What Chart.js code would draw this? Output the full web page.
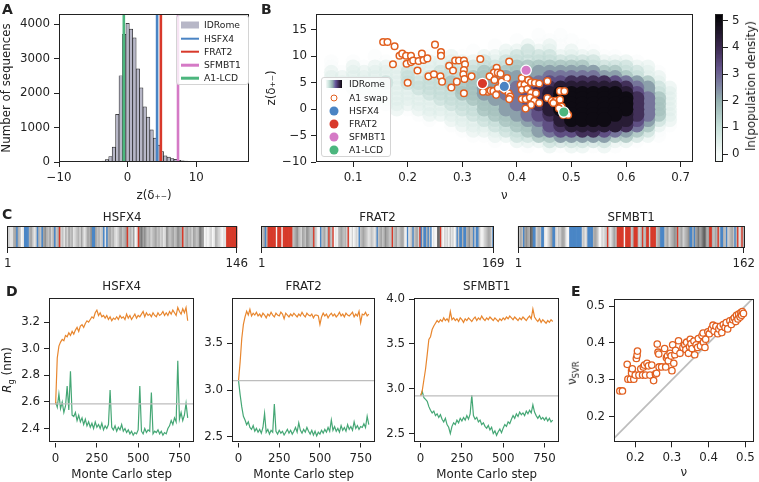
<!DOCTYPE html>
<html>
<head>
<meta charset="utf-8">
<title>IDRome charge patterning</title>
<script src="https://cdn.jsdelivr.net/npm/chart.js@4.4.1/dist/chart.umd.min.js"></script>
<style>
  html, body { margin: 0; padding: 0; background: #fff; }
  #fig { position: relative; width: 759px; height: 482px; overflow: hidden; font-family: 'DejaVu Sans', sans-serif; color: #222; }
  #fig canvas { position: absolute; }
  .tag { position: absolute; font-weight: bold; font-size: 14px; line-height: 14px; }
  .legend { position: absolute; border: 1px solid #d4d4d4; border-radius: 3px; background: rgba(255,255,255,0.8); font-size: 9.2px; box-sizing: border-box; }
  .legend .row { position: absolute; white-space: nowrap; line-height: 10px; transform: translateY(-50%); }
  .legend .sw { position: absolute; transform: translate(-50%, -50%); box-sizing: border-box; }
  .vlab { position: absolute; font-size: 11.8px; white-space: nowrap; transform: translate(-50%, -50%) rotate(-90deg); }
  .vlab sub { font-size: 8.5px; }
</style>
</head>
<body>
<div id="fig">
  <canvas id="histA" width="255" height="203" style="left:0;top:0"></canvas>
  <canvas id="mapB" width="440" height="203" style="left:260px;top:0"></canvas>
  <canvas id="barB" width="44" height="203" style="left:715px;top:0"></canvas>
  <canvas id="seq0" width="252" height="64" style="left:0;top:206px"></canvas>
  <canvas id="seq1" width="260" height="64" style="left:250px;top:206px"></canvas>
  <canvas id="seq2" width="249" height="64" style="left:510px;top:206px"></canvas>
  <canvas id="rg0" width="197" height="203" style="left:0;top:279px"></canvas>
  <canvas id="rg1" width="180" height="203" style="left:198px;top:279px"></canvas>
  <canvas id="rg2" width="182" height="203" style="left:380px;top:279px"></canvas>
  <canvas id="svrE" width="185" height="203" style="left:574px;top:279px"></canvas>

  <div class="tag" style="left:2px;top:2px">A</div>
  <div class="tag" style="left:261px;top:2px">B</div>
  <div class="tag" style="left:2px;top:207px">C</div>
  <div class="tag" style="left:6px;top:284px">D</div>
  <div class="tag" style="left:571px;top:284px">E</div>

  <div class="legend" style="left:176px;top:15px;width:73px;height:70px">
    <div class="sw" style="left:13px;top:9px;width:18px;height:7px;background:#b7b7c7"></div>
    <div class="row" style="left:27px;top:9px">IDRome</div>
    <div class="sw" style="left:13px;top:22.5px;width:18px;height:2.6px;background:#4a84c4"></div>
    <div class="row" style="left:27px;top:22.5px">HSFX4</div>
    <div class="sw" style="left:13px;top:35.7px;width:18px;height:2.6px;background:#d8392b"></div>
    <div class="row" style="left:27px;top:35.7px">FRAT2</div>
    <div class="sw" style="left:13px;top:49px;width:18px;height:2.6px;background:#d57ac6"></div>
    <div class="row" style="left:27px;top:49px">SFMBT1</div>
    <div class="sw" style="left:13px;top:62.3px;width:18px;height:2.6px;background:#4cb67e"></div>
    <div class="row" style="left:27px;top:62.3px">A1-LCD</div>
  </div>

  <div class="legend" style="left:321px;top:77px;width:70px;height:80px">
    <div class="sw" style="left:12px;top:6px;width:16px;height:8px;background:linear-gradient(to right,#f4faf8,#c6e0d9,#94b0b0,#64549a,#3a284e,#0c0a10)"></div>
    <div class="row" style="left:27px;top:6px">IDRome</div>
    <div class="sw" style="left:12px;top:19.5px;width:7px;height:7px;border:1.5px solid #e15f1f;border-radius:50%;background:#fff"></div>
    <div class="row" style="left:27px;top:19.5px">A1 swap</div>
    <div class="sw" style="left:12px;top:32.5px;width:9px;height:9px;border-radius:50%;background:#4a84c4"></div>
    <div class="row" style="left:27px;top:32.5px">HSFX4</div>
    <div class="sw" style="left:12px;top:46px;width:9px;height:9px;border-radius:50%;background:#d8392b"></div>
    <div class="row" style="left:27px;top:46px">FRAT2</div>
    <div class="sw" style="left:12px;top:59px;width:9px;height:9px;border-radius:50%;background:#d57ac6"></div>
    <div class="row" style="left:27px;top:59px">SFMBT1</div>
    <div class="sw" style="left:12px;top:72px;width:9px;height:9px;border-radius:50%;background:#4cb67e"></div>
    <div class="row" style="left:27px;top:72px">A1-LCD</div>
  </div>

  <div class="vlab" style="left:751px;top:86px">ln(population density)</div>
  <div class="vlab" style="left:7.5px;top:370px"><i>R</i><sub>g</sub> (nm)</div>
  <div class="vlab" style="left:573px;top:373px">ν<sub>SVR</sub></div>
</div>

<script>
// ---------- panel A: histogram of z(delta+-) over IDRome ----------
const zBins = [-4.5, -4, -3.5, -3, -2.5, -2, -1.5, -1, -0.5, 0, 0.5, 1, 1.5, 2, 2.5, 3, 3.5, 4, 4.5, 5, 5.5, 6, 6.5, 7, 7.5, 8, 8.5, 9, 9.5];
const zCounts = [8, 15, 30, 70, 160, 430, 1380, 2500, 3700, 4020, 3850, 3600, 2700, 2150, 1600, 1300, 930, 690, 490, 300, 180, 140, 100, 75, 50, 35, 25, 15, 10];
const countTicks = [0, 1000, 2000, 3000, 4000];

// reference sequences
const refNames = ['HSFX4', 'FRAT2', 'SFMBT1', 'A1-LCD'];
const refZ = [4.3, 4.85, 7.35, -0.55];
const refNu = [0.377, 0.337, 0.417, 0.486];

// ---------- panel B: density map (ln density, digit * 0.55), A1 swap variants ----------
const gridNu = [0.06, 0.08, 0.10, 0.12, 0.14, 0.16, 0.18, 0.20, 0.22, 0.24, 0.26, 0.28, 0.30, 0.32, 0.34, 0.36,
                0.38, 0.40, 0.42, 0.44, 0.46, 0.48, 0.50, 0.52, 0.54, 0.56, 0.58, 0.60, 0.62, 0.64, 0.66, 0.68];
const gridZ = [14, 13, 12, 11, 10, 9, 8, 7, 6, 5, 4, 3, 2, 1, 0, -1, -2, -3, -4, -5, -6, -7];
const densityRows = [
  '..........' + '.........0.0..........',
  '..........' + '.......0..0.0.........',
  '..........' + '.....0..1010.0........',
  '..........' + '...0..1121101.0.......',
  '....0....0' + '010.1112122111100.....',
  '0.0..0.101' + '1111212222222221110...',
  '0.10111111' + '12122223333333222211..',
  '1011111211' + '222233333444444332210.',
  '1111111212' + '222333444455555443211.',
  '0111121222' + '232334445566777765431.',
  '0.11111122' + '2233444556788888875421',
  '..01111112' + '2233445567899999986421',
  '...0111111' + '2223344567899999997531',
  '....011111' + '1222334557899999997531',
  '.....01011' + '1122334456899999997531',
  '........01' + '1112233456789999987531',
  '.........0' + '.111223345689999886421',
  '..........' + '.011122334678888875310',
  '..........' + '..0111223456677654320.',
  '..........' + '...001122334444433210.',
  '..........' + '.....0.111222222110...',
  '..........' + '........0.1011010.....'
];
const swapNu = [0.155, 0.163, 0.176, 0.250, 0.185, 0.190, 0.197, 0.206, 0.226, 0.261, 0.261, 0.173, 0.198, 0.206, 0.210,
  0.220, 0.229, 0.236, 0.218, 0.200, 0.238, 0.248, 0.260, 0.263, 0.276, 0.287, 0.294, 0.303, 0.305, 0.283, 0.303, 0.290,
  0.280, 0.302, 0.304, 0.303, 0.317, 0.333, 0.363, 0.358, 0.365, 0.370, 0.347, 0.352, 0.357, 0.372, 0.350, 0.359, 0.365,
  0.377, 0.338, 0.362, 0.386, 0.382, 0.385, 0.388, 0.386, 0.409, 0.407, 0.414, 0.421, 0.426, 0.433, 0.441, 0.409, 0.419,
  0.426, 0.435, 0.409, 0.416, 0.424, 0.432, 0.441, 0.426, 0.416, 0.456, 0.456, 0.464, 0.471, 0.479, 0.467, 0.479, 0.487,
  0.482, 0.491, 0.494, 0.485, 0.477];
const swapZ = [12.7, 12.7, 11.9, 12.2, 10.1, 10.5, 10.1, 10.1, 10.5, 10.8, 10.1, 8.5, 8.6, 8.9, 9.2,
  9.1, 9.3, 9.6, 7.3, 5.0, 6.2, 6.6, 6.2, 5.2, 8.2, 9.2, 9.2, 9.2, 8.5, 7.3, 7.4, 5.2,
  4.1, 6.6, 5.7, 3.0, 6.2, 9.5, 7.8, 6.9, 6.9, 6.7, 3.3, 3.5, 3.4, 5.2, 6.2, 5.5, 4.0,
  3.6, 3.3, 2.7, 9.0, 5.9, 3.0, 2.4, 1.9, 5.9, 4.6, 4.6, 5.5, 5.1, 5.0, 4.85, 3.65, 3.8,
  3.1, 3.0, 1.9, 1.9, 2.2, 1.6, 1.15, 0.8, 0.1, 5.3, 2.1, 1.6, 1.6, 1.8, 1.15, 3.4, 3.4,
  0.5, -0.76, -1.1, -1.1, 0.15];

// ---------- panel C: residue colour codes (0-9 grey level, r acidic, b basic) ----------
const seqNames = ['HSFX4', 'FRAT2', 'SFMBT1'];
const seqLengths = [146, 169, 162];
const hsfx4Code = ['32', '11', '45', 'b', '43', '01', 'bbb', '453', '12', 'b', '43', 'b', '564', '352', '4b', '34', 'r',
  '23142', '534', '123', '425', '213', '546', 'bb5', '342', '3b', '1b', '4534', '212', '45345', 'r', '3425', '01', 'r',
  '67564', '3423', '453423', '12', '643453465', '4r', '3453425434', '765', '0101201', '432', '101', '1', 'rrrrrrr'].join('');
const frat2Code = ['435', 'b4', 'rrrrrr', '0', 'rrr', '0', 'rrrrrrr', '345643254365434', 'r', '320', '0', 'b', '34524', 'r',
  '43', 'r', '010', '345434', '2', 'r', '1020121', 'b', '34543', '2123212', 'b3', '45346543', '3', 'r', '34523454', '10b1',
  '23', 'b', '3452', 'r', 'b3bb4b3b', '0100', '87', 'r', '10212031201', 'b3bb4bb', '456', '34', 'b2bb', '3', '1012', '3',
  '454', '2b'].join('');
const sfmbt1Code = ['4353', 'b', '5654', '87', 'bb', '2343', 'bb', '1012', '45', 'bb', '2132', '454', '2', '00', 'bbbbbbbbb',
  '2312', 'bbbb', '4543', '00', '2123', 'r', '212', '453', 'rrrrr', '0', 'rrrr', '34', 'rrr', '324', 'r', '34', 'rr', '2',
  'rrr', 'r3', '45', 'bbb', '345234565', 'r', '34523456', 'b', 'b4b5', '6756', '787', '45', 'rr4', '35', '4', 'r', '3',
  'bb4', '3', 'b', '2', '345', '3', 'b', '4', 'r', '12', 'r', '4'].join('');

// ---------- panel D: Rg along Monte Carlo swap runs ----------
const mcStep = [0, 10, 20, 30, 40, 50, 60, 70, 80, 90, 100, 110, 120, 130, 140, 150, 160, 170, 180, 190, 200, 210, 220, 230,
  240, 250, 260, 270, 280, 290, 300, 310, 320, 330, 340, 350, 360, 370, 380, 390, 400, 410, 420, 430, 440, 450, 460, 470,
  480, 490, 500, 510, 520, 530, 540, 550, 560, 570, 580, 590, 600, 610, 620, 630, 640, 650, 660, 670, 680, 690, 700, 710,
  720, 730, 740, 750, 760, 770, 780, 790, 800];
const rgStart = [2.585, 3.10, 2.92];
const hsfx4Swap = [2.58, 2.93, 3.02, 3.05, 3.07, 3.06, 3.10, 3.09, 3.12, 3.10,
  3.13, 3.11, 3.14, 3.16, 3.13, 3.17, 3.18, 3.16, 3.19, 3.21,
  3.20, 3.22, 3.24, 3.23, 3.27, 3.29, 3.25, 3.27, 3.24, 3.25,
  3.23, 3.25, 3.22, 3.24, 3.21, 3.23, 3.22, 3.24, 3.22, 3.25,
  3.23, 3.24, 3.22, 3.26, 3.23, 3.25, 3.22, 3.24, 3.26, 3.23,
  3.25, 3.24, 3.26, 3.28, 3.24, 3.27, 3.25, 3.26, 3.24, 3.27,
  3.25, 3.24, 3.27, 3.25, 3.26, 3.28, 3.25, 3.27, 3.25, 3.28,
  3.26, 3.29, 3.27, 3.25, 3.31, 3.28, 3.26, 3.30, 3.27, 3.31, 3.21];
const hsfx4Ref = [2.60, 2.56, 2.66, 2.55, 2.60, 2.52, 2.57, 2.72, 2.54, 2.83,
  2.50, 2.49, 2.52, 2.46, 2.50, 2.45, 2.48, 2.43, 2.47, 2.42,
  2.45, 2.41, 2.44, 2.40, 2.45, 2.41, 2.43, 2.40, 2.44, 2.39,
  2.42, 2.40, 2.43, 2.69, 2.41, 2.39, 2.42, 2.38, 2.41, 2.39,
  2.43, 2.38, 2.40, 2.37, 2.39, 2.36, 2.38, 2.35, 2.37, 2.36,
  2.39, 2.72, 2.38, 2.36, 2.40, 2.37, 2.39, 2.38, 2.67, 2.36,
  2.38, 2.37, 2.39, 2.36, 2.38, 2.35, 2.37, 2.36, 2.40, 2.42,
  2.46, 2.43, 2.48, 2.45, 2.91, 2.47, 2.52, 2.46, 2.50, 2.59, 2.48];
const frat2Swap = [3.10, 3.30, 3.55, 3.70, 3.78, 3.84, 3.80, 3.86, 3.79, 3.82,
  3.80, 3.83, 3.79, 3.81, 3.78, 3.82, 3.80, 3.77, 3.81, 3.79,
  3.83, 3.80, 3.78, 3.82, 3.80, 3.79, 3.83, 3.81, 3.76, 3.82,
  3.80, 3.78, 3.81, 3.79, 3.82, 3.80, 3.78, 3.81, 3.79, 3.83,
  3.80, 3.78, 3.82, 3.80, 3.79, 3.81, 3.77, 3.80, 3.80, 3.79,
  3.70, 3.78, 3.82, 3.79, 3.81, 3.77, 3.80, 3.82, 3.79, 3.81,
  3.78, 3.80, 3.83, 3.79, 3.81, 3.78, 3.82, 3.80, 3.79, 3.81,
  3.83, 3.78, 3.81, 3.79, 3.84, 3.72, 3.81, 3.80, 3.83, 3.79, 3.81];
const frat2Ref = [3.10, 2.95, 2.82, 2.72, 2.68, 2.63, 2.66, 2.60, 2.58, 2.62,
  2.56, 2.59, 2.55, 2.58, 2.54, 2.60, 2.75, 2.55, 2.58, 2.53,
  2.57, 2.55, 2.85, 2.56, 2.53, 2.57, 2.54, 2.56, 2.52, 2.55,
  2.58, 2.54, 2.57, 2.53, 2.56, 2.60, 2.55, 2.65, 2.57, 2.54,
  2.58, 2.55, 2.60, 2.56, 2.53, 2.57, 2.52, 2.56, 2.51, 2.55,
  2.53, 2.57, 2.54, 2.58, 2.55, 2.60, 2.56, 2.68, 2.57, 2.61,
  2.56, 2.59, 2.55, 2.62, 2.57, 2.60, 2.56, 2.63, 2.58, 2.61,
  2.57, 2.66, 2.59, 2.62, 2.58, 2.61, 2.60, 2.64, 2.60, 2.72, 2.63];
const sfmbt1Swap = [2.92, 2.98, 3.10, 3.22, 3.38, 3.55, 3.58, 3.66, 3.70, 3.73,
  3.76, 3.74, 3.77, 3.75, 3.79, 3.76, 3.78, 3.75, 3.86, 3.77,
  3.79, 3.76, 3.78, 3.75, 3.79, 3.77, 3.74, 3.78, 3.76, 3.79,
  3.77, 3.75, 3.78, 3.80, 3.76, 3.79, 3.77, 3.81, 3.78, 3.76,
  3.79, 3.77, 3.80, 3.78, 3.76, 3.79, 3.77, 3.75, 3.78, 3.76,
  3.79, 3.77, 3.80, 3.78, 3.81, 3.79, 3.77, 3.80, 3.78, 3.76,
  3.79, 3.77, 3.80, 3.78, 3.76, 3.79, 3.81, 3.78, 3.89, 3.80,
  3.77, 3.75, 3.78, 3.74, 3.77, 3.75, 3.73, 3.76, 3.74, 3.77, 3.75];
const sfmbt1Ref = [2.92, 2.97, 2.90, 2.88, 2.86, 2.80, 2.76, 2.73, 2.75, 2.70,
  2.72, 2.68, 2.71, 2.66, 2.63, 2.67, 2.60, 2.57, 2.50, 2.58,
  2.62, 2.60, 2.65, 2.62, 2.67, 2.64, 2.68, 2.65, 2.70, 2.66,
  2.72, 2.93, 2.70, 2.66, 2.68, 2.63, 2.65, 2.60, 2.62, 2.58,
  2.56, 2.59, 2.54, 2.57, 2.50, 2.53, 2.48, 2.52, 2.55, 2.51,
  2.56, 2.60, 2.58, 2.63, 2.61, 2.66, 2.70, 2.67, 2.72, 2.69,
  2.74, 2.71, 2.73, 2.70, 2.75, 2.72, 2.76, 2.73, 2.82, 2.74,
  2.70, 2.67, 2.70, 2.66, 2.68, 2.65, 2.68, 2.64, 2.67, 2.63, 2.65];

// ---------- panel E: nu vs SVR prediction ----------
const svrNu = [0.158, 0.165, 0.178, 0.180, 0.187, 0.190, 0.190, 0.192, 0.196, 0.200, 0.203, 0.205, 0.206, 0.210, 0.215,
  0.220, 0.222, 0.225, 0.228, 0.232, 0.236, 0.240, 0.245, 0.250, 0.255, 0.258, 0.260, 0.262, 0.264, 0.265, 0.272, 0.280,
  0.283, 0.285, 0.288, 0.290, 0.295, 0.298, 0.300, 0.302, 0.305, 0.308, 0.310, 0.318, 0.322, 0.330, 0.335, 0.338, 0.340,
  0.345, 0.348, 0.350, 0.352, 0.355, 0.360, 0.362, 0.366, 0.370, 0.372, 0.378, 0.382, 0.385, 0.386, 0.390, 0.392, 0.398,
  0.402, 0.408, 0.412, 0.415, 0.420, 0.425, 0.428, 0.432, 0.436, 0.440, 0.445, 0.448, 0.452, 0.458, 0.462, 0.466, 0.470,
  0.474, 0.476, 0.480, 0.482, 0.486, 0.488, 0.490, 0.492, 0.495];
const svrPred = [0.270, 0.270, 0.342, 0.302, 0.302, 0.325, 0.318, 0.330, 0.302, 0.313, 0.358, 0.367, 0.378, 0.313, 0.330,
  0.313, 0.335, 0.340, 0.313, 0.345, 0.338, 0.313, 0.340, 0.298, 0.316, 0.318, 0.397, 0.375, 0.370, 0.335, 0.335, 0.385,
  0.335, 0.360, 0.365, 0.352, 0.372, 0.365, 0.325, 0.395, 0.345, 0.368, 0.380, 0.406, 0.372, 0.388, 0.395, 0.382, 0.402,
  0.372, 0.390, 0.410, 0.398, 0.385, 0.405, 0.368, 0.395, 0.388, 0.412, 0.392, 0.420, 0.427, 0.402, 0.388, 0.410, 0.430,
  0.425, 0.438, 0.448, 0.432, 0.445, 0.425, 0.438, 0.445, 0.428, 0.450, 0.442, 0.455, 0.438, 0.460, 0.450, 0.463, 0.468,
  0.458, 0.475, 0.465, 0.478, 0.470, 0.482, 0.475, 0.485, 0.480];

// ---------- styling ----------
const INK = '#222';
const TICK_FONT = { family: "'DejaVu Sans', sans-serif", size: 11.8, weight: 'normal' };
const refColors = ['#4a84c4', '#d8392b', '#d57ac6', '#4cb67e'];
const SWAP = '#e15f1f';
const RUN_SWAP = '#e8862e';
const RUN_REF = '#45a775';
const residueColor = { r: '#d73a2a', b: '#4a86c6', '0': '#f6f6f6', '1': '#e4e4e4', '2': '#d3d3d3', '3': '#c3c3c3',
  '4': '#b3b3b3', '5': '#a4a4a4', '6': '#909090', '7': '#787878', '8': '#5f5f5f', '9': '#484848' };
const cmapStops = [[0, [244, 250, 248]], [1, [198, 224, 217]], [2, [148, 176, 176]], [2.6, [124, 128, 160]],
  [3.2, [100, 84, 138]], [4, [58, 40, 78]], [5, [12, 10, 16]]];

function cmap(v, alpha) {
  let lo = cmapStops[0], hi = cmapStops[cmapStops.length - 1];
  for (let i = 0; i < cmapStops.length - 1; i++) {
    if (v >= cmapStops[i][0] && v <= cmapStops[i + 1][0]) { lo = cmapStops[i]; hi = cmapStops[i + 1]; break; }
  }
  if (v < cmapStops[0][0]) hi = lo;
  const t = hi[0] === lo[0] ? 0 : (v - lo[0]) / (hi[0] - lo[0]);
  const c = lo[1].map((a, k) => Math.round(a + (hi[1][k] - a) * t));
  return `rgba(${c[0]},${c[1]},${c[2]},${alpha === undefined ? 1 : alpha})`;
}

const minus = v => (v < 0 ? '\u2212' : '') + Math.abs(v);
const fixed1 = v => v.toFixed(1);

Chart.defaults.font.family = TICK_FONT.family;
Chart.defaults.color = INK;
Chart.register({
  id: 'frame',
  afterDatasetsDraw(chart) {
    const a = chart.chartArea, c = chart.ctx;
    c.save();
    c.strokeStyle = INK;
    c.lineWidth = 1;
    c.strokeRect(Math.round(a.left) + 0.5, Math.round(a.top) + 0.5,
      Math.round(a.right - a.left) - 1, Math.round(a.bottom - a.top) - 1);
    c.restore();
  }
});

function axis(o) {
  const ax = {
    type: 'linear',
    position: o.position,
    offset: false,
    min: o.min,
    max: o.max,
    grid: { offset: false, drawOnChartArea: false, drawTicks: true, tickLength: 5, color: INK },
    border: { display: false },
    ticks: { stepSize: o.step, includeBounds: false, color: INK, font: TICK_FONT, padding: 4,
      maxRotation: 0, autoSkip: false, callback: o.fmt },
    title: o.title ? { display: true, text: o.title, color: INK, font: TICK_FONT, padding: o.titlePad || 0 }
                   : { display: false },
    afterFit: s => { if (s.isHorizontal()) s.height = o.size; else s.width = o.size; }
  };
  // explicit tick values (Chart.js evens out big steps when min/max are fixed)
  if (o.at) ax.afterBuildTicks = s => { s.ticks = o.at.map(value => ({ value })); };
  return ax;
}

function options(padding, scales, title) {
  return {
    responsive: false,
    animation: false,
    devicePixelRatio: 1,
    layout: { padding },
    plugins: {
      legend: { display: false },
      tooltip: { enabled: false },
      title: title ? { display: true, text: title, fullSize: false, color: INK, font: TICK_FONT,
                       padding: { top: 0, bottom: 4 } } : { display: false }
    },
    scales
  };
}

// ---------- A ----------
const histTop = 4290;
new Chart(document.getElementById('histA'), {
  type: 'bar',
  data: {
    datasets: [
      ...refNames.map((n, i) => ({
        type: 'line', label: n, data: [{ x: refZ[i], y: 0 }, { x: refZ[i], y: histTop }],
        borderColor: refColors[i], borderWidth: 2.6, pointRadius: 0, order: 0
      })),
      { type: 'bar', label: 'IDRome', data: zBins.map((x, i) => ({ x, y: zCounts[i] })),
        backgroundColor: '#b7b7c7', borderColor: '#1e1e1e', borderWidth: 0.7,
        barPercentage: 1, categoryPercentage: 1, order: 1 }
    ]
  },
  options: options({ left: 0, top: 14, right: 6, bottom: 0 }, {
    x: axis({ min: -10, max: 17.7, step: 10, fmt: minus, size: 41, title: 'z(δ₊₋)' }),
    y: axis({ min: 0, max: histTop, at: countTicks, fmt: v => String(v), size: 59, title: 'Number of sequences' })
  })
});

// ---------- B ----------
const densityPts = [];
densityRows.forEach((row, i) => {
  for (let j = 0; j < row.length; j++) {
    if (row[j] === '.') continue;
    densityPts.push({ x: gridNu[j], y: gridZ[i], v: Number(row[j]) * 0.55 });
  }
});
densityPts.sort((a, b) => a.v - b.v);
const densityAlpha = v => v < 0.3 ? 0.3 : v < 0.6 ? 0.42 : v < 1.2 ? 0.55 : v < 1.7 ? 0.75 : 1;

new Chart(document.getElementById('mapB'), {
  type: 'scatter',
  data: {
    datasets: [
      ...refNames.map((n, i) => ({
        label: n, data: [{ x: refNu[i], y: refZ[i] }], pointRadius: 5.2,
        pointBackgroundColor: refColors[i], pointBorderColor: '#fff', pointBorderWidth: 1.3, order: 1
      })),
      { label: 'A1 swap', data: swapNu.map((x, i) => ({ x, y: swapZ[i] })), pointRadius: 3.3,
        pointBackgroundColor: '#fff', pointBorderColor: SWAP, pointBorderWidth: 1.5, order: 2 },
      { label: 'IDRome', data: densityPts, pointRadius: 7.4, pointBorderWidth: 0,
        pointBackgroundColor: densityPts.map(p => cmap(p.v, densityAlpha(p.v))), order: 3 }
    ]
  },
  options: options({ left: 0, top: 14, right: 4, bottom: 0 }, {
    x: axis({ min: 0.032, max: 0.722, step: 0.1, fmt: fixed1, size: 41, title: 'ν' }),
    y: axis({ min: -10, max: 18, step: 5, fmt: minus, size: 56, title: 'z(δ₊₋)', titlePad: { top: 5, bottom: 0 } })
  })
});

// colour bar
const cbMin = -0.3, cbMax = 5.25, cbStep = 0.05;
const cbSegments = [];
for (let lo = cbMin; lo < cbMax - 1e-9; lo += cbStep) cbSegments.push([lo, Math.min(lo + cbStep, cbMax)]);
const cbAxis = axis({ min: cbMin, max: cbMax, step: 1, fmt: v => String(v), size: 36 });
cbAxis.position = 'right';
new Chart(document.getElementById('barB'), {
  type: 'bar',
  data: {
    labels: [''],
    datasets: cbSegments.map(([lo, hi]) => ({
      data: [[lo, hi]], backgroundColor: cmap(Math.max(0, (lo + hi) / 2)), borderWidth: 0,
      barPercentage: 1, categoryPercentage: 1, grouped: false
    }))
  },
  options: options({ left: 0, top: 14, right: 0, bottom: 41 }, { x: { display: false }, y: cbAxis })
});

// ---------- C ----------
const seqCodes = [hsfx4Code, frat2Code, sfmbt1Code];
const seqPad = [{ left: 5, right: 14.3, top: 0, bottom: 0 }, { left: 11, right: 16, top: 0, bottom: 0 },
                { left: 7.7, right: 9, top: 0, bottom: 0 }];
seqNames.forEach((name, k) => {
  const code = [...seqCodes[k]], n = seqLengths[k];
  const xAxis = axis({ min: 0.5, max: n + 0.5, at: [1, n], fmt: v => String(v), size: 22 });
  const opts = options(seqPad[k], { x: xAxis, y: { display: false, min: 0, max: 1 } }, name);
  opts.plugins.title.padding = { top: 5, bottom: 1 };
  new Chart(document.getElementById('seq' + k), {
    type: 'bar',
    data: {
      datasets: [{ label: name, data: code.map((c, i) => ({ x: i + 1, y: 1 })),
        backgroundColor: code.map(c => residueColor[c]), borderWidth: 0,
        barPercentage: 1, categoryPercentage: 1 }]
    },
    options: opts
  });
});

// ---------- D ----------
const rgSwap = [hsfx4Swap, frat2Swap, sfmbt1Swap];
const rgRef = [hsfx4Ref, frat2Ref, sfmbt1Ref];
const rgRange = [[2.295, 3.38], [2.44, 3.98], [2.40, 4.01]];
const rgStep = [0.2, 0.5, 0.5];
const mcMin = -40, mcMax = 840;
const rgAxisW = [49, 34, 34];
seqNames.forEach((name, k) => {
  new Chart(document.getElementById('rg' + k), {
    type: 'line',
    data: {
      datasets: [
        { label: 'start', data: [{ x: mcMin, y: rgStart[k] }, { x: mcMax, y: rgStart[k] }],
          borderColor: '#bdbdbd', borderWidth: 1.3, pointRadius: 0, order: 0 },
        { label: 'swap', data: mcStep.map((x, i) => ({ x, y: rgSwap[k][i] })),
          borderColor: RUN_SWAP, borderWidth: 1.2, pointRadius: 0, order: 1 },
        { label: 'A1-like', data: mcStep.map((x, i) => ({ x, y: rgRef[k][i] })),
          borderColor: RUN_REF, borderWidth: 1.2, pointRadius: 0, order: 2 }
      ]
    },
    options: options({ left: 0, top: 1, right: 2.7, bottom: 0 }, {
      x: axis({ min: mcMin, max: mcMax, step: 250, fmt: v => String(v), size: 39.5, title: 'Monte Carlo step' }),
      y: axis({ min: rgRange[k][0], max: rgRange[k][1], step: rgStep[k], fmt: fixed1, size: rgAxisW[k] })
    }, name)
  });
});

// ---------- E ----------
const eMin = 0.131, eMax = 0.523;
new Chart(document.getElementById('svrE'), {
  type: 'scatter',
  data: {
    datasets: [
      { label: 'A1 swap', data: svrNu.map((x, i) => ({ x, y: svrPred[i] })), pointRadius: 3.2,
        pointBackgroundColor: '#fff', pointBorderColor: SWAP, pointBorderWidth: 1.3, order: 0 },
      { type: 'line', label: 'identity', data: [{ x: eMin, y: eMin }, { x: eMax, y: eMax }],
        borderColor: '#bdbdbd', borderWidth: 1.8, pointRadius: 0, order: 1 }
    ]
  },
  options: options({ left: 0, top: 20, right: 1, bottom: 0 }, {
    x: axis({ min: 0.142, max: 0.523, step: 0.1, fmt: fixed1, size: 39.7, title: 'ν', titlePad: { top: 0, bottom: 2 } }),
    y: axis({ min: eMin, max: 0.519, step: 0.1, fmt: fixed1, size: 40 })
  })
});
</script>
</body>
</html>
